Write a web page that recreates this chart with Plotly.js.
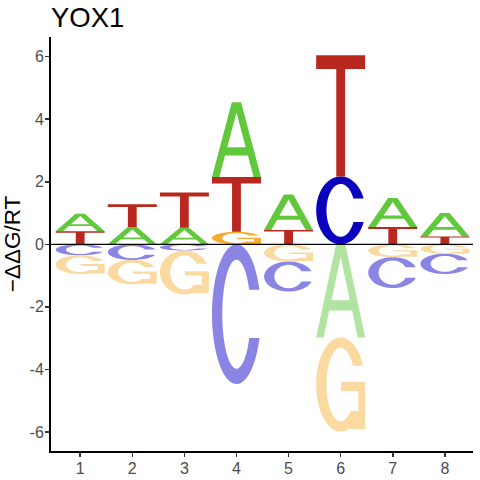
<!DOCTYPE html>
<html>
<head>
<meta charset="utf-8">
<script src="https://cdn.plot.ly/plotly-3.0.1.min.js"></script>
<style>html,body{margin:0;padding:0;background:#fff;}#chart{width:480px;height:480px;}</style>
</head>
<body>
<div id="chart"></div>
<script>
// ---- data ----
const positions = [1, 2, 3, 4, 5, 6, 7, 8];
const bases = ['A', 'C', 'G', 'T'];
const valA = [0.56, 0.55, 0.53, 2.39, 1.13, -2.98, 0.93, 0.75];
const valC = [-0.35, -0.50, -0.20, -4.47, -0.96, 2.17, -0.99, -0.65];
const valG = [-0.60, -0.78, -1.40, 0.40, -0.55, -3.01, -0.41, -0.30];
const valT = [0.42, 0.73, 1.13, 1.75, 0.46, 3.88, 0.55, 0.25];
const xTickLabels = ['1', '2', '3', '4', '5', '6', '7', '8'];
const yTickVals = [-6, -4, -2, 0, 2, 4, 6];
const yTickLabels = ['-6', '-4', '-2', '0', '2', '4', '6'];
const chartTitle = 'YOX1';
const yTitle = '\u2212\u0394\u0394G/RT';

// ---- styling ----
const fullColor = {A: '#61C83C', C: '#0A00BE', G: '#F5AC32', T: '#B8281F'};
const paleColor = {A: '#B0E4A0', C: '#8A84E4', G: '#FADAA0', T: '#DC938F'};
const letterWidth = 0.94;
const FONT = 'Liberation Sans, Arial, Helvetica, sans-serif';

// ---- glyph outlines in a unit box ----
function arc(cx, cy, rx, ry, a0, a1, n) {
  const pts = [];
  for (let k = 0; k <= n; k++) {
    const a = (a0 + (a1 - a0) * k / n) * Math.PI / 180;
    pts.push([cx + rx * Math.cos(a), cy + ry * Math.sin(a)]);
  }
  return pts;
}
const RXo = 0.5, RYo = 0.5, RXi = 0.29, RYi = 0.39;
function deg(x) { return x * 180 / Math.PI; }
const glyphs = {
  T: [[0,1],[1,1],[1,0.885],[0.59,0.885],[0.59,0],[0.41,0],[0.41,0.885],[0,0.885]],
  A: [[0,0],[0.15,0],[0.267,0.29],[0.733,0.29],[0.85,0],[1,0],[0.595,1],[0.5,1],
      [0.5,0.864],[0.688,0.40],[0.312,0.40],[0.5,0.864],[0.5,1],[0.405,1]],
  C: (function () {
    const up = 0.175, lo = 0.17;
    const o0 = deg(Math.asin(up / RYo)), o1 = 360 - deg(Math.asin(lo / RYo));
    const i0 = deg(Math.asin(up / RYi)), i1 = 360 - deg(Math.asin(lo / RYi));
    return arc(0.5, 0.5, RXo, RYo, o0, o1, 60).concat(arc(0.5, 0.5, RXi, RYi, i1, i0, 60));
  })(),
  G: (function () {
    const up = 0.20;
    const o0 = deg(Math.asin(up / RYo));
    const i0 = deg(Math.asin(up / RYi));
    const iEnd = 360 - deg(Math.asin(0.28 / RYi));
    return arc(0.5, 0.5, RXo, RYo, o0, 290, 60)
      .concat([[0.88,0.025],[1.0,0.025],[1.0,0.53],[0.51,0.53],[0.51,0.43],[0.86,0.43],[0.86,0.22]])
      .concat(arc(0.5, 0.5, RXi, RYi, iEnd, i0, 60));
  })()
};

// ---- stack letters per position ----
const values = {A: valA, C: valC, G: valG, T: valT};
const traceBuf = {};
bases.forEach(b => { traceBuf[b + '+'] = {x: [], y: []}; traceBuf[b + '-'] = {x: [], y: []}; });

function place(b, sign, p, y0, y1) {
  const buf = traceBuf[b + sign];
  const g = glyphs[b];
  const left = p - letterWidth / 2;
  g.forEach(pt => { buf.x.push(left + pt[0] * letterWidth); buf.y.push(y0 + pt[1] * (y1 - y0)); });
  buf.x.push(left + g[0][0] * letterWidth);
  buf.y.push(y0 + g[0][1] * (y1 - y0));
  buf.x.push(null); buf.y.push(null);
}

positions.forEach((p, i) => {
  const items = bases.map(b => ({b: b, v: values[b][i]}));
  const pos = items.filter(d => d.v > 0).sort((a, c) => a.v - c.v);
  const neg = items.filter(d => d.v < 0).sort((a, c) => c.v - a.v);
  let base = 0;
  pos.forEach(d => { place(d.b, '+', p, base, base + d.v); base += d.v; });
  base = 0;
  neg.forEach(d => { place(d.b, '-', p, base + d.v, base); base += d.v; });
});

const traces = [];
bases.forEach(b => {
  ['+', '-'].forEach(s => {
    const buf = traceBuf[b + s];
    if (!buf.x.length) return;
    traces.push({
      type: 'scatter', mode: 'none', x: buf.x, y: buf.y,
      fill: 'toself', fillcolor: s === '+' ? fullColor[b] : paleColor[b],
      hoverinfo: 'skip', showlegend: false, name: b + s
    });
  });
});

const layout = {
  width: 480, height: 480,
  margin: {l: 51, r: 7, t: 37, b: 29},
  paper_bgcolor: '#ffffff', plot_bgcolor: '#ffffff',
  showlegend: false,
  font: {family: FONT},
  title: {
    text: chartTitle, x: 0, xref: 'paper', xanchor: 'left',
    y: 1 - 17.5 / 480, yref: 'container', yanchor: 'middle',
    font: {family: FONT, size: 27.5, color: '#000000'}
  },
  xaxis: {
    range: [0.44, 8.54], tickmode: 'array', tickvals: positions, ticktext: xTickLabels,
    showgrid: false, zeroline: false, showline: true, linecolor: '#000000', linewidth: 2,
    ticks: 'outside', ticklen: 4, tickwidth: 1.5, tickcolor: '#333333',
    ticklabelstandoff: -2,
    tickfont: {family: FONT, size: 16, color: '#4D4D4D'}, fixedrange: true
  },
  yaxis: {
    range: [-6.61, 6.63], tickmode: 'array', tickvals: yTickVals, ticktext: yTickLabels,
    showgrid: false, zeroline: false, showline: true, linecolor: '#000000', linewidth: 2,
    ticks: 'outside', ticklen: 4, tickwidth: 1.5, tickcolor: '#333333',
    ticklabelstandoff: -2,
    tickfont: {family: FONT, size: 16, color: '#4D4D4D'}, fixedrange: true,
    title: {text: yTitle, font: {family: FONT, size: 22.5, color: '#000000'}, standoff: 4}
  },
  shapes: [{
    type: 'line', xref: 'paper', x0: 0, x1: 1, yref: 'y', y0: 0, y1: 0,
    line: {color: '#000000', width: 1.2}, layer: 'above'
  }]
};

Plotly.newPlot('chart', traces, layout, {staticPlot: true, displayModeBar: false});
</script>
</body>
</html>
